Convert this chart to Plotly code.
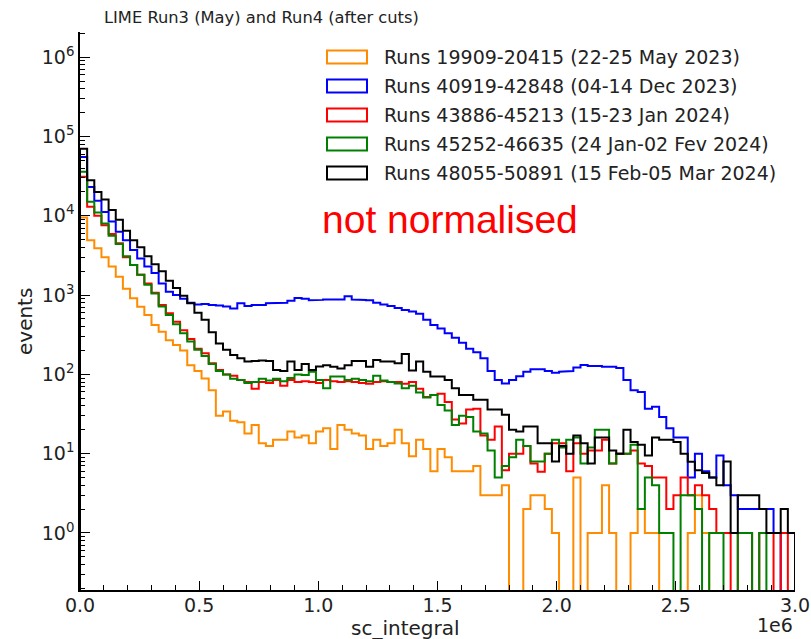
import plotly.graph_objects as go

# ---------------- data ----------------
bin_lo = 0.0
bin_hi = 3.0e6
n_bins = 100

labels = [
    "Runs 19909-20415 (22-25 May 2023)",
    "Runs 40919-42848 (04-14 Dec 2023)",
    "Runs 43886-45213 (15-23 Jan 2024)",
    "Runs 45252-46635 (24 Jan-02 Fev 2024)",
    "Runs 48055-50891 (15 Feb-05 Mar 2024)",
]
colors = ["#ff8c00", "#0000ff", "#ff0000", "#008000", "#000000"]

orange = [9500, 4900, 3900, 3000, 2300, 1700, 1200, 910, 715, 560,
          420, 345, 270, 235, 200, 130, 110, 89, 63, 30,
          34, 26, 25, 18, 23, 13.5, 12.5, 15, 15, 19,
          16, 17, 13.5, 19, 21, 11.5, 23, 20, 18, 17,
          11.5, 15, 12.5, 13.5, 20, 13.5, 9.3, 15, 11.5, 6,
          11.5, 9, 6, 6, 6, 7, 3, 3, 3, 4,
          0, 0, 2, 3, 3, 2, 1, 0, 0, 5,
          0, 1, 1, 4, 1, 0, 0, 1, 2, 1,
          1, 0, 0, 0, 0, 1, 3, 1, 0, 0,
          0, 0, 0, 0, 0, 0, 0, 0, 0, 0]

blue = [55000, 23000, 15500, 11200, 8500, 6300, 4900, 3700, 2900, 2300,
        1900, 1400, 1100, 1000, 900, 800, 760, 770, 750, 740,
        720, 680, 790, 730, 750, 750, 790, 800, 800, 850,
        920, 900, 860, 870, 880, 880, 880, 970, 880, 870,
        860, 800, 760, 730, 690, 650, 620, 580, 490, 420,
        380, 330, 290, 250, 210, 190, 160, 110, 85, 77,
        85, 95, 108, 116, 116, 110, 105, 108, 110, 122,
        131, 128, 128, 125, 125, 120, 85, 63, 60, 37,
        39, 29, 21, 16, 16, 5, 10, 6, 5, 9.5,
        4, 3, 2, 2, 2, 2, 2, 1, 0, 0]

red = [31000, 13000, 10000, 7600, 5900, 4500, 3000, 2400, 1800, 1400,
       1070, 750, 590, 460, 360, 280, 210, 185, 138, 114,
       100, 96, 85, 80, 66, 80, 78, 85, 72, 85,
       80, 82, 80, 78, 85, 82, 80, 82, 80, 78,
       76, 80, 82, 80, 80, 76, 80, 66, 52, 55,
       57, 45, 27, 24, 36, 37, 17, 15, 22, 6.2,
       10, 10, 12.5, 7.5, 5.9, 10, 13.5, 13.5, 6, 13.5,
       10, 11, 11, 15, 7.5, 10, 10, 11, 7.5, 7,
       5, 5, 2, 3, 5, 3, 4, 3, 2, 1,
       1, 0, 1, 1, 0, 1, 1, 0, 1, 0]

green = [36000, 15000, 11000, 8000, 5600, 4400, 3100, 2400, 1800, 1350,
         1050, 720, 560, 430, 330, 260, 205, 170, 135, 110,
         100, 88, 85, 78, 80, 88, 84, 88, 82, 90,
         100, 98, 108, 85, 67, 94, 94, 85, 88, 85,
         82, 96, 84, 80, 77, 67, 72, 59, 51, 55,
         41, 35, 23, 30, 29, 19, 18, 11, 5, 7,
         9, 15, 12.5, 8, 8, 10, 15, 12, 15, 16,
         7.5, 12, 20, 20, 7.5, 10, 10, 13, 2, 5,
         4, 1, 1, 0, 3, 3, 2, 0, 1, 1,
         0, 0, 1, 1, 0, 1, 0, 0, 0, 0]

black = [70000, 28000, 20000, 16000, 11800, 8900, 6500, 4900, 4000, 3100,
         2450, 2000, 1520, 1230, 980, 790, 600, 490, 340, 245,
         204, 176, 160, 145, 148, 150, 148, 114, 110, 145,
         114, 135, 114, 126, 130, 125, 119, 130, 148, 148,
         125, 152, 145, 145, 138, 181, 112, 145, 108, 94,
         94, 85, 67, 55, 55, 48, 48, 36, 36, 31,
         20, 19, 22, 22, 13.5, 13.5, 8, 12.5, 10, 17,
         13.5, 7.5, 16, 16, 11, 10, 20, 14, 13, 9.5,
         16, 15, 15, 14, 10, 7.9, 6.2, 5.7, 5, 4,
         8, 1, 3, 3, 3, 2, 1, 1, 2, 1]

series = [orange, blue, red, green, black]

x_ticks = [0.0, 0.5e6, 1.0e6, 1.5e6, 2.0e6, 2.5e6, 3.0e6]
x_ticktext = ["0.0", "0.5", "1.0", "1.5", "2.0", "2.5", "3.0"]
y_ticks = [1, 10, 100, 1e3, 1e4, 1e5, 1e6]
y_ticktext = ["10<sup>%d</sup>" % i for i in range(7)]

# ---------------- figure ----------------
W, H = 811, 639
L, R, T, B = 80, 16, 32, 49
FONT = "DejaVu Sans"
floor = 1e-3  # empty bins drop below the visible axis like a step histogram

edges = [bin_lo + (bin_hi - bin_lo) * i / n_bins for i in range(n_bins + 1)]


def step_xy(vals):
    xs, ys = [edges[0]], [floor]
    for i, v in enumerate(vals):
        vv = v if v > 0 else floor
        xs += [edges[i], edges[i + 1]]
        ys += [vv, vv]
    xs.append(edges[-1])
    ys.append(floor)
    return xs, ys


fig = go.Figure()
for vals, col, lab in zip(series, colors, labels):
    xs, ys = step_xy(vals)
    fig.add_trace(go.Scatter(x=xs, y=ys, mode="lines", name=lab,
                             line=dict(color=col, width=2), showlegend=False,
                             hoverinfo="skip"))


def px_x(p):
    return (p - L) / (W - L - R)


def px_y(p):
    return (H - B - p) / (H - T - B)


shapes = []
annotations = []
row0, drow = 57, 29
for i, (col, lab) in enumerate(zip(colors, labels)):
    cy = row0 + drow * i
    shapes.append(dict(type="rect", xref="paper", yref="paper",
                       x0=px_x(327), x1=px_x(367), y0=px_y(cy + 6.5), y1=px_y(cy - 6.5),
                       line=dict(color=col, width=2), fillcolor="rgba(0,0,0,0)"))
    annotations.append(dict(text=lab, xref="paper", yref="paper", x=px_x(382), y=px_y(cy),
                            xanchor="left", yanchor="middle", showarrow=False,
                            font=dict(family=FONT, size=19, color="#222")))

annotations += [
    dict(text="LIME Run3 (May) and Run4 (after cuts)", xref="paper", yref="paper",
         x=px_x(102), y=px_y(17), xanchor="left", yanchor="middle", showarrow=False,
         font=dict(family=FONT, size=16.3, color="#222")),
    dict(text="not normalised", xref="paper", yref="paper", x=px_x(450), y=px_y(219),
         xanchor="center", yanchor="middle", showarrow=False,
         font=dict(family="Liberation Sans, Arial", size=39, color="#ff0000")),
    dict(text="events", xref="paper", yref="paper", x=px_x(25), y=px_y(322),
         xanchor="center", yanchor="middle", textangle=-90, showarrow=False,
         font=dict(family=FONT, size=20, color="#222")),
    dict(text="sc_integral", xref="paper", yref="paper", x=px_x(405), y=px_y(628),
         xanchor="center", yanchor="middle", showarrow=False,
         font=dict(family=FONT, size=20, color="#222")),
    dict(text="1e6", xref="paper", yref="paper", x=px_x(775), y=px_y(625),
         xanchor="center", yanchor="middle", showarrow=False,
         font=dict(family=FONT, size=19, color="#222")),
]

fig.update_layout(
    width=W, height=H, autosize=False,
    margin=dict(l=L, r=R, t=T, b=B, pad=0, autoexpand=False),
    paper_bgcolor="white", plot_bgcolor="white",
    showlegend=False,
    shapes=shapes, annotations=annotations,
    font=dict(family=FONT, size=19, color="#222"),
)
fig.update_xaxes(range=[bin_lo, bin_hi], showgrid=False, zeroline=False, automargin=False,
                 showline=True, linecolor="black", linewidth=1.5,
                 ticks="inside", ticklen=9, tickwidth=1.3, tickcolor="black",
                 tickvals=x_ticks, ticktext=x_ticktext, ticklabelstandoff=-3,
                 tickfont=dict(family=FONT, size=19, color="#222"),
                 minor=dict(ticks="inside", ticklen=5, tickwidth=1, tickcolor="black",
                            dtick=1e5, showgrid=False))
fig.update_yaxes(type="log", range=[-0.719, 6.318], showgrid=False, zeroline=False,
                 automargin=False,
                 showline=True, linecolor="black", linewidth=1.5,
                 ticks="inside", ticklen=10, tickwidth=1.3, tickcolor="black",
                 tickvals=y_ticks, ticktext=y_ticktext,
                 tickfont=dict(family=FONT, size=19, color="#222"),
                 minor=dict(ticks="inside", ticklen=5, tickwidth=1, tickcolor="black",
                            dtick="D1", showgrid=False))

fig.write_html("out.html")
